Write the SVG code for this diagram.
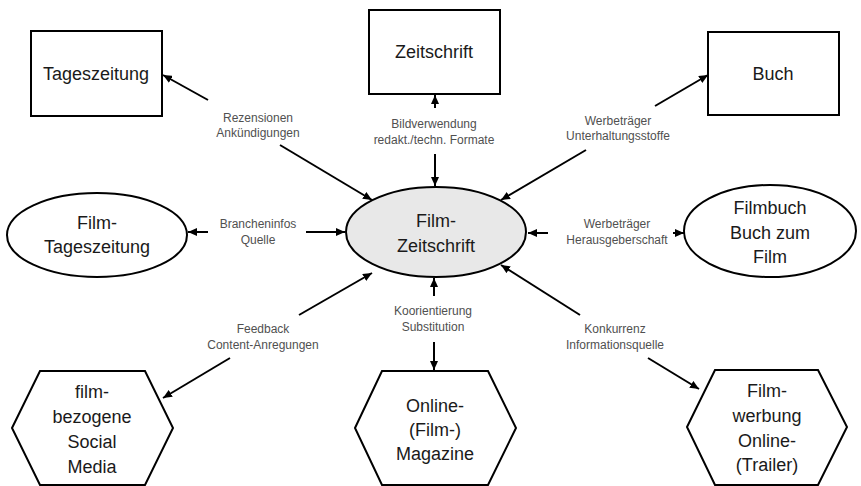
<svg xmlns="http://www.w3.org/2000/svg" width="861" height="486" viewBox="0 0 861 486">
<style>
.node{fill:#ffffff;stroke:#000000;stroke-width:2}
.center{fill:#e8e8e8;stroke:#000000;stroke-width:2}
.big{font-family:"Liberation Sans",Arial,sans-serif;font-size:18px;fill:#1a1a1a;text-anchor:middle}
.lbl{font-family:"Liberation Sans",Arial,sans-serif;font-size:12px;fill:#505050;text-anchor:middle}
.conn{stroke:#000000;stroke-width:2;fill:none;marker-end:url(#arr)}
</style>
<defs>
<marker id="arr" markerUnits="userSpaceOnUse" markerWidth="9" markerHeight="8" refX="9" refY="4" orient="auto">
<path d="M0,0 L9,4 L0,8 z" fill="#000000"/>
</marker>
</defs>
<rect width="861" height="486" fill="#ffffff"/>
<g id="connectors">
<line class="conn" x1="208" y1="100" x2="163" y2="75"/>
<line class="conn" x1="280" y1="145" x2="372" y2="200"/>
<line class="conn" x1="435" y1="108" x2="435" y2="95"/>
<line class="conn" x1="435" y1="154" x2="435" y2="186"/>
<line class="conn" x1="655" y1="106" x2="708" y2="75"/>
<line class="conn" x1="586" y1="150" x2="501" y2="200"/>
<line class="conn" x1="208" y1="232" x2="188" y2="232"/>
<line class="conn" x1="306" y1="232" x2="345" y2="232"/>
<line class="conn" x1="548" y1="233" x2="528" y2="233"/>
<line class="conn" x1="673" y1="233" x2="684" y2="233"/>
<line class="conn" x1="299" y1="315" x2="372" y2="273"/>
<line class="conn" x1="230" y1="358" x2="163" y2="398"/>
<line class="conn" x1="434" y1="296" x2="434" y2="278"/>
<line class="conn" x1="434" y1="342" x2="434" y2="370"/>
<line class="conn" x1="580" y1="315" x2="501" y2="265"/>
<line class="conn" x1="648" y1="358" x2="699" y2="389"/>
<text class="lbl" x="258" y="122">Rezensionen</text>
<text class="lbl" x="258" y="137">Ankündigungen</text>
<text class="lbl" x="434" y="128">Bildverwendung</text>
<text class="lbl" x="434" y="144">redakt./techn. Formate</text>
<text class="lbl" x="618" y="125">Werbeträger</text>
<text class="lbl" x="618" y="140">Unterhaltungsstoffe</text>
<text class="lbl" x="258" y="228">Brancheninfos</text>
<text class="lbl" x="258" y="244">Quelle</text>
<text class="lbl" x="617" y="228">Werbeträger</text>
<text class="lbl" x="617" y="244">Herausgeberschaft</text>
<text class="lbl" x="263" y="333">Feedback</text>
<text class="lbl" x="263" y="349">Content-Anregungen</text>
<text class="lbl" x="433" y="315">Koorientierung</text>
<text class="lbl" x="433" y="331">Substitution</text>
<text class="lbl" x="615" y="333">Konkurrenz</text>
<text class="lbl" x="615" y="349">Informationsquelle</text>
</g>
<g id="tageszeitung">
<rect class="node" x="31" y="31" width="131" height="85"/>
<text class="big" x="96" y="80">Tageszeitung</text>
</g>
<g id="zeitschrift">
<rect class="node" x="369" y="10" width="131" height="84"/>
<text class="big" x="434" y="58">Zeitschrift</text>
</g>
<g id="buch">
<rect class="node" x="708" y="32" width="131" height="83"/>
<text class="big" x="773" y="80">Buch</text>
</g>
<g id="film-tageszeitung">
<ellipse class="node" cx="97" cy="235" rx="90" ry="42"/>
<text class="big" x="97" y="229">Film-</text>
<text class="big" x="97" y="253">Tageszeitung</text>
</g>
<g id="film-zeitschrift">
<ellipse class="center" cx="436" cy="232" rx="90" ry="45"/>
<text class="big" x="436" y="227">Film-</text>
<text class="big" x="436" y="252">Zeitschrift</text>
</g>
<g id="filmbuch">
<ellipse class="node" cx="770" cy="231" rx="86" ry="46"/>
<text class="big" x="770" y="214">Filmbuch</text>
<text class="big" x="770" y="239">Buch zum</text>
<text class="big" x="770" y="263">Film</text>
</g>
<g id="social-media">
<polygon class="node" points="12,428 40,371 145,371 173,428 145,485 40,485"/>
<text class="big" x="92" y="398">film-</text>
<text class="big" x="92" y="423">bezogene</text>
<text class="big" x="92" y="448">Social</text>
<text class="big" x="92" y="473">Media</text>
</g>
<g id="online-magazine">
<polygon class="node" points="355,428 382,371 488,371 516,428 488,485 382,485"/>
<text class="big" x="435" y="412">Online-</text>
<text class="big" x="435" y="436">(Film-)</text>
<text class="big" x="435" y="460">Magazine</text>
</g>
<g id="filmwerbung">
<polygon class="node" points="687,427 715,370 818,370 847,427 818,485 715,485"/>
<text class="big" x="767" y="397">Film-</text>
<text class="big" x="767" y="422">werbung</text>
<text class="big" x="767" y="447">Online-</text>
<text class="big" x="767" y="471">(Trailer)</text>
</g>
</svg>
